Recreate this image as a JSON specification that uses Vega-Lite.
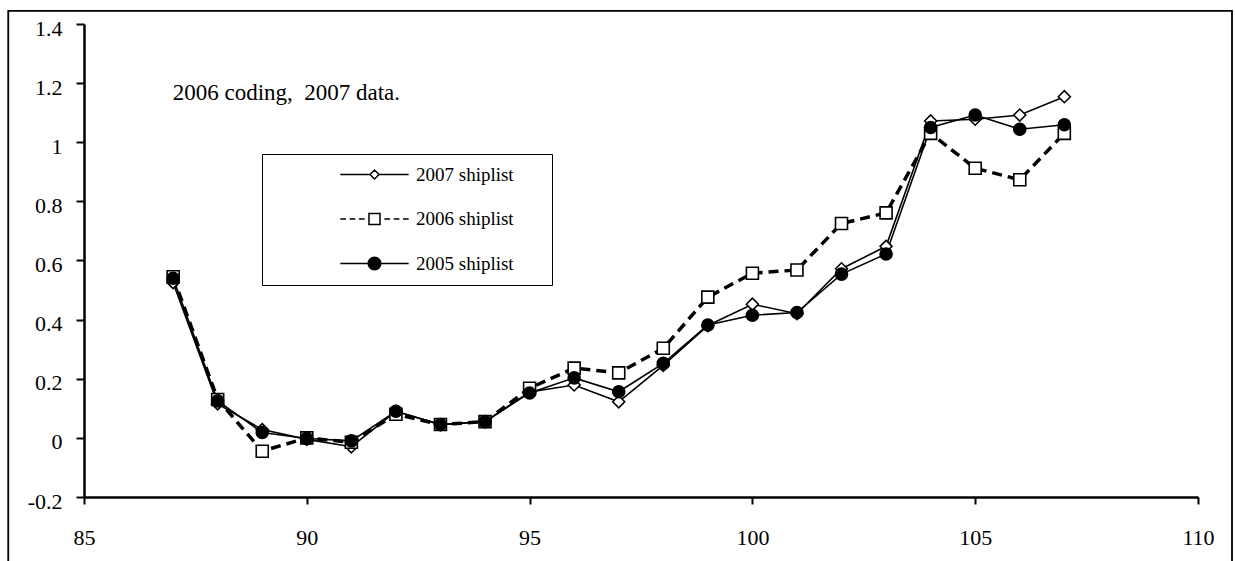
{
  "$schema": "https://vega.github.io/schema/vega-lite/v6.json",
  "width": 1114,
  "height": 473,
  "autosize": "none",
  "padding": {"left": 84, "top": 24, "right": 37, "bottom": 64},
  "background": "white",
  "config": {"view": {"stroke": null}, "font": "Liberation Serif"},
  "resolve": {"scale": {"shape": "independent"}, "legend": {"shape": "independent"}},
  "data": {"values": [
    {"x": 87, "2007 shiplist": 0.525, "2006 shiplist": 0.545, "2005 shiplist": 0.54},
    {"x": 88, "2007 shiplist": 0.115, "2006 shiplist": 0.13, "2005 shiplist": 0.125},
    {"x": 89, "2007 shiplist": 0.028, "2006 shiplist": -0.045, "2005 shiplist": 0.018},
    {"x": 90, "2007 shiplist": -0.005, "2006 shiplist": 0.0, "2005 shiplist": -0.002},
    {"x": 91, "2007 shiplist": -0.03, "2006 shiplist": -0.015, "2005 shiplist": -0.01},
    {"x": 92, "2007 shiplist": 0.09, "2006 shiplist": 0.08, "2005 shiplist": 0.09},
    {"x": 93, "2007 shiplist": 0.045, "2006 shiplist": 0.045, "2005 shiplist": 0.045},
    {"x": 94, "2007 shiplist": 0.055, "2006 shiplist": 0.055, "2005 shiplist": 0.055},
    {"x": 95, "2007 shiplist": 0.155, "2006 shiplist": 0.168, "2005 shiplist": 0.152},
    {"x": 96, "2007 shiplist": 0.179, "2006 shiplist": 0.236, "2005 shiplist": 0.203},
    {"x": 97, "2007 shiplist": 0.122, "2006 shiplist": 0.22, "2005 shiplist": 0.156},
    {"x": 98, "2007 shiplist": 0.245, "2006 shiplist": 0.303, "2005 shiplist": 0.252},
    {"x": 99, "2007 shiplist": 0.38, "2006 shiplist": 0.476, "2005 shiplist": 0.382},
    {"x": 100, "2007 shiplist": 0.452, "2006 shiplist": 0.557, "2005 shiplist": 0.415},
    {"x": 101, "2007 shiplist": 0.42, "2006 shiplist": 0.568, "2005 shiplist": 0.424},
    {"x": 102, "2007 shiplist": 0.572, "2006 shiplist": 0.725, "2005 shiplist": 0.554},
    {"x": 103, "2007 shiplist": 0.648, "2006 shiplist": 0.761, "2005 shiplist": 0.622},
    {"x": 104, "2007 shiplist": 1.072, "2006 shiplist": 1.03, "2005 shiplist": 1.05},
    {"x": 105, "2007 shiplist": 1.078, "2006 shiplist": 0.912, "2005 shiplist": 1.092},
    {"x": 106, "2007 shiplist": 1.092, "2006 shiplist": 0.873, "2005 shiplist": 1.044},
    {"x": 107, "2007 shiplist": 1.154, "2006 shiplist": 1.03, "2005 shiplist": 1.059}
  ]},
  "layer": [
    {
      "data": {"values": [{"frame": 1}]},
      "mark": {"type": "rect", "filled": false, "stroke": "black", "strokeWidth": 1.8, "clip": false},
      "encoding": {
        "x": {"datum": 83.3, "type": "quantitative", "scale": {"domain": [85, 110], "nice": false, "zero": false}, "title": null},
        "x2": {"datum": 110.763},
        "y": {"datum": 1.4447, "type": "quantitative", "scale": {"domain": [-0.2, 1.4], "nice": false, "zero": false}, "title": null},
        "y2": {"datum": -0.4334}
      }
    },
    {
      "transform": [
        {"fold": ["2007 shiplist", "2006 shiplist", "2005 shiplist"], "as": ["series", "value"]},
        {"filter": "datum.series === '2007 shiplist'"}
      ],
      "mark": {"type": "line", "strokeCap": "butt", "color": "black", "strokeWidth": 1.6},
      "encoding": {
        "x": {"field": "x", "type": "quantitative", "scale": {"domain": [85, 110], "nice": false, "zero": false}, "title": null,
          "axis": {"values": [85, 90, 95, 100, 105, 110], "title": null, "grid": false, "domainWidth": 2.5, "domainColor": "black", "tickColor": "black", "tickWidth": 2, "tickSize": 7, "labelFont": "Liberation Serif", "labelFontSize": 22, "labelColor": "black", "labelPadding": 23, "labelBaseline": "top", "labelFlush": false, "labelOverlap": false}},
        "y": {"field": "value", "type": "quantitative", "scale": {"domain": [-0.2, 1.4], "nice": false, "zero": false}, "title": null,
          "axis": {"values": [-0.2, 0, 0.2, 0.4, 0.6, 0.8, 1, 1.2, 1.4], "title": null, "grid": false, "domainWidth": 2.5, "domainColor": "black", "tickColor": "black", "tickWidth": 2, "tickSize": 8, "labelFont": "Liberation Serif", "labelFontSize": 22, "labelColor": "black", "labelPadding": 14, "labelBaseline": "middle", "labelOffset": 4, "labelFlush": false, "labelOverlap": false, "labelExpr": "replace(format(datum.value, '.1~f'), '\u2212', '-')"}}
      }
    },
    {
      "transform": [
        {"fold": ["2007 shiplist", "2006 shiplist", "2005 shiplist"], "as": ["series", "value"]},
        {"filter": "datum.series === '2006 shiplist'"}
      ],
      "mark": {"type": "line", "strokeCap": "butt", "color": "black", "strokeWidth": 3.5, "strokeDash": [10, 6]},
      "encoding": {
        "x": {"field": "x", "type": "quantitative", "scale": {"domain": [85, 110], "nice": false, "zero": false}, "title": null},
        "y": {"field": "value", "type": "quantitative", "scale": {"domain": [-0.2, 1.4], "nice": false, "zero": false}, "title": null}
      }
    },
    {
      "transform": [
        {"fold": ["2007 shiplist", "2006 shiplist", "2005 shiplist"], "as": ["series", "value"]},
        {"filter": "datum.series === '2005 shiplist'"}
      ],
      "mark": {"type": "line", "strokeCap": "butt", "color": "black", "strokeWidth": 1.6},
      "encoding": {
        "x": {"field": "x", "type": "quantitative", "scale": {"domain": [85, 110], "nice": false, "zero": false}, "title": null},
        "y": {"field": "value", "type": "quantitative", "scale": {"domain": [-0.2, 1.4], "nice": false, "zero": false}, "title": null}
      }
    },
    {
      "transform": [{"fold": ["2007 shiplist", "2006 shiplist", "2005 shiplist"], "as": ["series", "value"]}],
      "mark": {"type": "point", "filled": true, "size": 144, "stroke": "black", "strokeWidth": 1.6, "opacity": 1},
      "encoding": {
        "x": {"field": "x", "type": "quantitative", "scale": {"domain": [85, 110], "nice": false, "zero": false}, "title": null},
        "y": {"field": "value", "type": "quantitative", "scale": {"domain": [-0.2, 1.4], "nice": false, "zero": false}, "title": null},
        "shape": {"field": "series", "type": "nominal", "scale": {"domain": ["2005 shiplist", "2007 shiplist", "2006 shiplist"], "range": ["circle", "diamond", "square"]}, "legend": null},
        "fill": {"field": "series", "type": "nominal", "scale": {"domain": ["2005 shiplist", "2006 shiplist", "2007 shiplist"], "range": ["black", "white", "white"]}, "legend": null}
      }
    },
    {
      "transform": [{"fold": ["2007 shiplist", "2006 shiplist", "2005 shiplist"], "as": ["series", "value"]}],
      "mark": {"type": "point", "filled": false, "size": 144, "opacity": 0},
      "encoding": {
        "x": {"field": "x", "type": "quantitative", "scale": {"domain": [85, 110], "nice": false, "zero": false}, "title": null},
        "y": {"field": "value", "type": "quantitative", "scale": {"domain": [-0.2, 1.4], "nice": false, "zero": false}, "title": null},
        "shape": {"field": "series", "type": "nominal",
          "scale": {"domain": ["2007 shiplist", "2006 shiplist", "2005 shiplist"], "range": [
            "M-5.7,0L-0.75,0M0.75,0L5.7,0M-0.75,0L0,-0.75L0.75,0L0,0.75ZM27.1,0",
            "M-5.7,0L-4.75,0M-4.15,0L-3.2,0M-2.6,0L-1.65,0M1.65,0L2.6,0M3.2,0L4.15,0M4.75,0L5.7,0M-0.92,-0.92L0.92,-0.92L0.92,0.92L-0.92,0.92ZM27.1,0",
            "M-5.7,0L5.7,0M1.05,0A1.05,1.05,0,1,1,-1.05,0A1.05,1.05,0,1,1,1.05,0M0.85,0A0.85,0.85,0,1,1,-0.85,0A0.85,0.85,0,1,1,0.85,0M0.65,0A0.65,0.65,0,1,1,-0.65,0A0.65,0.65,0,1,1,0.65,0M0.45,0A0.45,0.45,0,1,1,-0.45,0A0.45,0.45,0,1,1,0.45,0M0.25,0A0.25,0.25,0,1,1,-0.25,0A0.25,0.25,0,1,1,0.25,0M0.08,0A0.08,0.08,0,1,1,-0.08,0A0.08,0.08,0,1,1,0.08,0M27.1,0"
          ]},
          "legend": {"title": null, "orient": "none", "legendX": 178, "legendY": 130, "padding": 11, "strokeColor": "black", "fillColor": "white", "symbolSize": 144, "symbolOffset": 92, "labelOffset": 32, "rowPadding": 24.5, "labelFont": "Liberation Serif", "labelFontSize": 19, "labelColor": "black", "labelBaseline": "middle", "symbolStrokeWidth": 1.5, "symbolStrokeColor": "black", "symbolFillColor": "white", "symbolOpacity": 1,
            "encode": {"legend": {"strokeWidth": {"value": 1.5}}}}}
      }
    },
    {
      "data": {"values": [{"note": "2006 coding,\u00a0 2007 data."}]},
      "mark": {"type": "text", "align": "left", "baseline": "alphabetic", "font": "Liberation Serif", "fontSize": 23, "color": "black"},
      "encoding": {
        "text": {"field": "note"},
        "x": {"datum": 86.99, "type": "quantitative", "scale": {"domain": [85, 110], "nice": false, "zero": false}, "title": null},
        "y": {"datum": 1.143, "type": "quantitative", "scale": {"domain": [-0.2, 1.4], "nice": false, "zero": false}, "title": null}
      }
    }
  ]
}
